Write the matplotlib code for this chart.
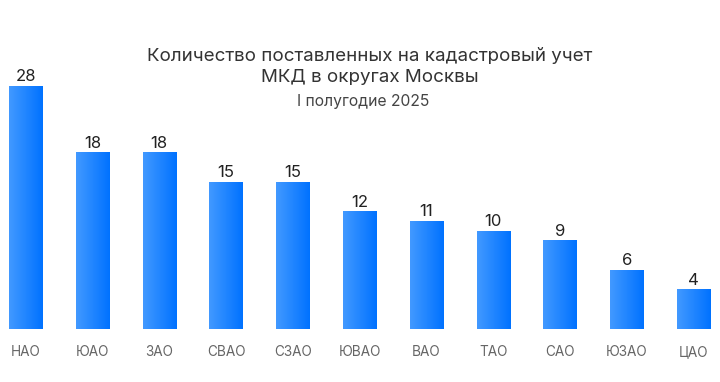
import numpy as np
import matplotlib.pyplot as plt
from matplotlib.colors import LinearSegmentedColormap

plt.rcParams['font.family'] = ['Inter', 'DejaVu Sans']

districts = ["НАО", "ЮАО", "ЗАО", "СВАО", "СЗАО", "ЮВАО", "ВАО", "ТАО", "САО", "ЮЗАО", "ЦАО"]
counts = [28, 18, 18, 15, 15, 12, 11, 10, 9, 6, 4]
y_max = 24.85  # the tallest bar is cut off at the top of the plot area

fig = plt.figure(figsize=(7.2, 3.82), dpi=100)
ax = fig.add_axes([0, 52.5 / 382, 1, 243.5 / 382])

x = np.arange(len(districts))
bars = ax.bar(x, counts, width=0.5, color="none")

cmap = LinearSegmentedColormap.from_list("bar", ["#4299ff", "#0072ff"])
grad = np.linspace(0, 1, 64).reshape(1, -1)
for b, v in zip(bars, counts):
    x0, w = b.get_x(), b.get_width()
    top = min(v, y_max)
    ax.imshow(grad, cmap=cmap, extent=[x0, x0 + w, 0, top], aspect="auto", zorder=2)
    ax.annotate(str(v), (x0 + w / 2, top), xytext=(0, 3.8), textcoords="offset points",
                ha="center", va="baseline", fontsize=12, color="#222222",
                annotation_clip=False)

ax.set_xlim(-0.385, 10.394)
ax.set_ylim(0, y_max)
ax.set_xticks(x)
ax.set_xticklabels(districts, fontsize=9.8, color="#666666", va="baseline")
ax.tick_params(axis="x", length=0, pad=19)
ax.set_yticks([])
for s in ax.spines.values():
    s.set_visible(False)
ax.patch.set_visible(False)

fig.text(0.514, 1 - 61 / 382, "Количество поставленных на кадастровый учет",
         ha="center", va="baseline", fontsize=13.5, color="#333333")
fig.text(0.514, 1 - 82 / 382, "МКД в округах Москвы",
         ha="center", va="baseline", fontsize=13.5, color="#333333")
fig.text(0.505, 1 - 106 / 382, "I полугодие 2025", ha="center", va="baseline",
         fontsize=11.3, color="#444444")

fig.savefig("out.png", dpi=100)
